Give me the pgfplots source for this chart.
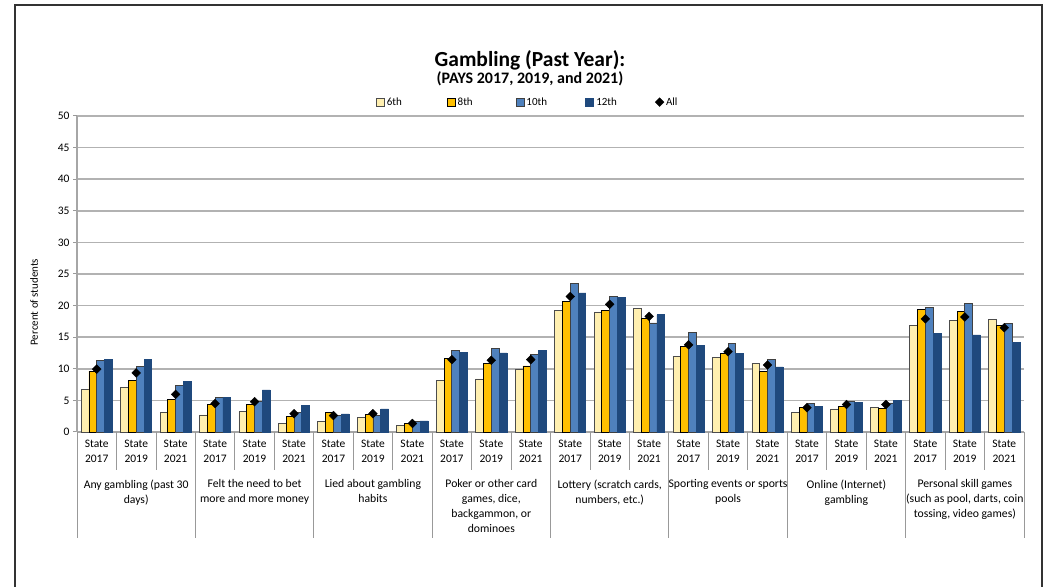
\documentclass[border=0pt]{standalone}
\usepackage{fontspec}
\setmainfont{Carlito}
\usepackage{pgfplots}
\usepackage{pgfplotstable}
\pgfplotsset{compat=1.18}

\definecolor{g6col}{HTML}{FFEFB0}
\definecolor{g8col}{HTML}{FFC000}
\definecolor{g10col}{HTML}{4F81BD}
\definecolor{g12col}{HTML}{1F497D}

\pgfplotsset{
    sq legend/.style={legend image code/.code={\draw[#1] (0bp,-4bp) rectangle (8bp,4bp);}},
    dot legend/.style={legend image code/.code={\draw[#1] plot coordinates {(4bp,0bp)};}},
}

% x = slot (8 items x State 2017/2019/2021)
\pgfplotstableread{
x  g6     g8     g10    g12    all
0  6.70   9.65   11.30  11.50  9.95
1  7.10   8.20   10.40  11.50  9.35
2  3.15   5.10   7.30   8.00   5.95
3  2.70   4.40   5.40   5.50   4.50
4  3.20   4.30   4.90   6.65   4.80
5  1.40   2.50   3.15   4.20   2.90
6  1.60   3.05   2.65   2.85   2.60
7  2.25   2.75   2.60   3.65   2.90
8  1.10   1.30   1.60   1.75   1.35
9  8.10   11.70  12.85  12.65  11.45
10 8.40   10.90  13.20  12.50  11.35
11 9.95   10.45  12.20  12.85  11.45
12 19.20  20.70  23.50  22.00  21.45
13 19.00  19.20  21.45  21.35  20.20
14 19.60  18.00  17.25  18.55  18.30
15 12.00  13.50  15.75  13.75  13.80
16 11.85  12.40  14.00  12.40  12.70
17 10.90  9.65   11.55  10.30  10.60
18 3.05   3.95   4.45   4.05   3.85
19 3.65   4.05   4.80   4.70   4.35
20 3.95   3.75   4.60   5.00   4.35
21 16.80  19.40  19.70  15.55  17.90
22 17.70  19.10  20.30  15.35  18.20
23 17.80  16.80  17.15  14.20  16.50
}\gambling

\newcommand{\sz}[1]{\fontsize{#1bp}{1.25\dimexpr#1bp\relax}\selectfont}

\begin{document}
\begin{tikzpicture}
\useasboundingbox (0bp,0bp) rectangle (1046bp,587bp);
% outer frame (open at the bottom)
\draw[line width=2.5bp, black!80] (15bp,0bp) -- (15bp,582bp) -- (1042bp,582bp) -- (1042bp,0bp);

\node[font=\bfseries\sz{21.5}] at (530bp,527bp) {Gambling (Past Year):};
\node[font=\bfseries\sz{16}] at (530bp,508bp) {(PAYS 2017, 2019, and 2021)};

\begin{axis}[
    at={(77bp,155bp)}, anchor=south west,
    scale only axis, width=947bp, height=316bp,
    xmin=-0.5, xmax=23.5, ymin=0, ymax=50,
    ytick distance=5,
    xtick={0,...,23},
    xticklabels={State\\2017,State\\2019,State\\2021,State\\2017,State\\2019,State\\2021,
                 State\\2017,State\\2019,State\\2021,State\\2017,State\\2019,State\\2021,
                 State\\2017,State\\2019,State\\2021,State\\2017,State\\2019,State\\2021,
                 State\\2017,State\\2019,State\\2021,State\\2017,State\\2019,State\\2021},
    xticklabel style={align=center, font=\fontsize{11.5bp}{14.4bp}\selectfont, yshift=-1bp},
    x tick style={draw=none},
    y tick style={black!40, line width=1bp},
    tick align=outside, major tick length=4bp,
    yticklabel style={font=\sz{11.5}},
    /pgf/number format/assume math mode=true,
    axis lines*=left,
    axis line style={black!35, line width=1.2bp},
    ymajorgrids, grid style={black!30, line width=1.5bp},
    ylabel={Percent of students},
    ylabel style={font=\sz{11}, at={(axis description cs:-0.0454,0.411)}, anchor=center},
    legend columns=5,
    legend style={draw=none, fill=none, font=\sz{11},
        at={(axis description cs:0.476,1.044)}, anchor=center,
        /tikz/every even column/.append style={column sep=1bp}},
    legend cell align=left,
    clip=false,
]
\addplot[ybar, bar width=0.198, bar shift=-0.297, fill=g6col, draw=black!70, line width=0.8bp,
    sq legend] table[x=x, y=g6] {\gambling};
\addplot[ybar, bar width=0.198, bar shift=-0.099, fill=g8col, draw=black, line width=0.8bp,
    sq legend] table[x=x, y=g8] {\gambling};
\addplot[ybar, bar width=0.198, bar shift=0.099, fill=g10col, draw=black!75, line width=0.8bp,
    sq legend] table[x=x, y=g10] {\gambling};
\addplot[ybar, bar width=0.198, bar shift=0.297, fill=g12col, draw=g12col, line width=0.8bp,
    sq legend] table[x=x, y=g12] {\gambling};
\addplot[only marks, mark=square*, mark size=3.1bp, mark options={rotate=45, fill=black, draw=black},
    dot legend] table[x=x, y=all] {\gambling};
\legend{\makebox[57bp][l]{6th},\makebox[55bp][l]{8th},\makebox[56bp][l]{10th},\makebox[56bp][l]{12th},All}

% separators
\pgfplotsinvokeforeach{0.5,1.5,3.5,4.5,6.5,7.5,9.5,10.5,12.5,13.5,15.5,16.5,18.5,19.5,21.5,22.5}{
    \draw[black!40, line width=0.8bp] (axis cs:#1,0) -- ++(0bp,-38bp);
}
\pgfplotsinvokeforeach{-0.5,2.5,5.5,8.5,11.5,14.5,17.5,20.5,23.5}{
    \draw[black!40, line width=0.8bp] (axis cs:#1,0) -- ++(0bp,-106bp);
}
% group labels
\tikzset{grp/.style={anchor=north, yshift=-44bp, align=center,
    font=\fontsize{11.7bp}{15bp}\selectfont}}
\node[grp] at (axis cs:1,0) {Any gambling (past 30\\days)};
\node[grp] at (axis cs:4,0) {Felt the need to bet\\more and more money};
\node[grp] at (axis cs:7,0) {Lied about gambling\\habits};
\node[grp] at (axis cs:10,0) {Poker or other card\\games, dice,\\backgammon, or\\dominoes};
\node[grp] at (axis cs:13,0) {Lottery (scratch cards,\\numbers, etc.)};
\node[grp] at (axis cs:16,0) {Sporting events or sports\\pools};
\node[grp] at (axis cs:19,0) {Online (Internet)\\gambling};
\node[grp] at (axis cs:22,0) {Personal skill games\\(such as pool, darts, coin\\tossing, video games)};
\end{axis}
\end{tikzpicture}
\end{document}
